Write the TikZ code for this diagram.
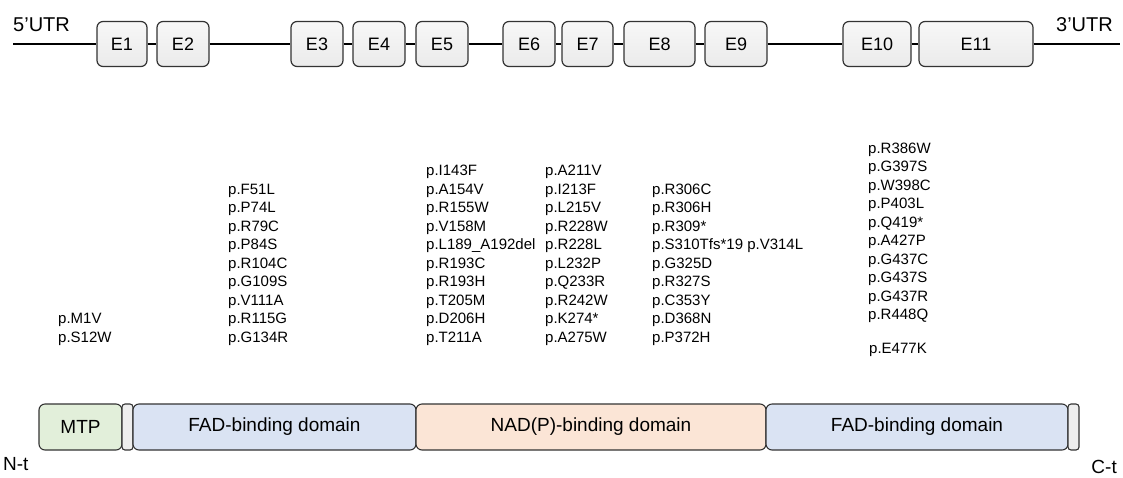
\documentclass[tikz,border=0pt]{standalone}
\usepackage{fontspec}
\setmainfont{Liberation Sans}
\definecolor{mtpgreen}{HTML}{E2EFDA}
\definecolor{fadblue}{HTML}{DAE3F3}
\definecolor{nadpeach}{HTML}{FBE5D6}
\definecolor{exfill}{HTML}{EDEDED}
\definecolor{capfill}{HTML}{EEEEEE}
\definecolor{edge}{HTML}{333333}
\tikzset{
  exon/.style={draw=edge, line width=1.2pt, top color=gray!6, bottom color=gray!16,
    rounded corners=6pt, minimum height=45pt, inner sep=0pt,
    font=\fontsize{18}{20}\selectfont},
  dom/.style={draw=edge, line width=1.1pt, rounded corners=6pt,
    minimum height=46pt, inner sep=0pt, font=\fontsize{19}{21}\selectfont},
  capbox/.style={dom, fill=capfill, rounded corners=3pt},
  mut/.style={inner sep=0pt, anchor=base west, font=\fontsize{15}{18}\selectfont},
  utrlbl/.style={inner sep=0pt, font=\fontsize{20}{22}\selectfont},
  endlbl/.style={inner sep=0pt, font=\fontsize{19}{21}\selectfont},
  gene/.style={draw=black, line width=1.2pt}
}
\begin{document}
\begin{tikzpicture}[x=1pt,y=-1pt]
\useasboundingbox (0,0) rectangle (1123,477);
% gene structure
\coordinate (u5) at (13,44);
\coordinate (u3) at (1120,44);
\node[utrlbl, anchor=base west] (t5) at (13,31) {5’UTR};
\node[utrlbl, anchor=base east] (t3) at (1113,31) {3’UTR};
\foreach \n/\x/\w in {1/122/50, 2/183/52, 3/317/52, 4/379/52, 5/442/52, 6/529/52,
  7/587.5/51, 8/659.5/71, 9/736/62, 10/877/68, 11/976/114}
  \node[exon, minimum width=\w pt] (e\n) at (\x,44) {E\n};
\foreach \a/\b in {u5/e1, e1/e2, e2/e3, e3/e4, e4/e5, e5/e6, e6/e7, e7/e8, e8/e9,
  e9/e10, e10/e11, e11/u3}
  \draw[gene] (\a) -- (\b);
% variants
\foreach [count=\i from 0] \t in {p.M1V, p.S12W}
  \node[mut] (ma\i) at (58,{323.5+18.5*\i}) {\t};
\foreach [count=\i from 0] \t in {p.F51L, p.P74L, p.R79C, p.P84S, p.R104C, p.G109S,
  p.V111A, p.R115G, p.G134R}
  \node[mut] (mb\i) at (228,{194+18.5*\i}) {\t};
\foreach [count=\i from 0] \t in {p.I143F, p.A154V, p.R155W, p.V158M, p.L189\_A192del,
  p.R193C, p.R193H, p.T205M, p.D206H, p.T211A}
  \node[mut] (mc\i) at (426,{175.5+18.5*\i}) {\t};
\foreach [count=\i from 0] \t in {p.A211V, p.I213F, p.L215V, p.R228W, p.R228L,
  p.L232P, p.Q233R, p.R242W, p.K274*, p.A275W}
  \node[mut] (md\i) at (545,{175.5+18.5*\i}) {\t};
\foreach [count=\i from 0] \t in {p.R306C, p.R306H, p.R309*, p.S310Tfs*19 p.V314L,
  p.G325D, p.R327S, p.C353Y, p.D368N, p.P372H}
  \node[mut] (me\i) at (652,{194+18.5*\i}) {\t};
\foreach [count=\i from 0] \t in {p.R386W, p.G397S, p.W398C, p.P403L, p.Q419*,
  p.A427P, p.G437C, p.G437S, p.G437R, p.R448Q}
  \node[mut] (mf\i) at (868,{153+18.5*\i}) {\t};
\node[mut] (mf10) at (869,353) {p.E477K};
% protein domains
\node[dom, fill=mtpgreen, minimum width=83pt] (mtp) at (80.5,427) {MTP};
\node[capbox, minimum width=11pt] (g1) at (127.5,427) {};
\node[dom, fill=fadblue, minimum width=283pt] (fad1) at (274.5,427) {FAD-binding domain};
\node[dom, fill=nadpeach, minimum width=350pt] (nad) at (591,427) {NAD(P)-binding domain};
\node[dom, fill=fadblue, minimum width=302pt] (fad2) at (917,427) {FAD-binding domain};
\node[capbox, minimum width=11pt] (g2) at (1073.5,427) {};
\node[endlbl, anchor=base west] (nt) at (3,470) {N-t};
\node[endlbl, anchor=base east] (ct) at (1117,473) {C-t};
\end{tikzpicture}
\end{document}
